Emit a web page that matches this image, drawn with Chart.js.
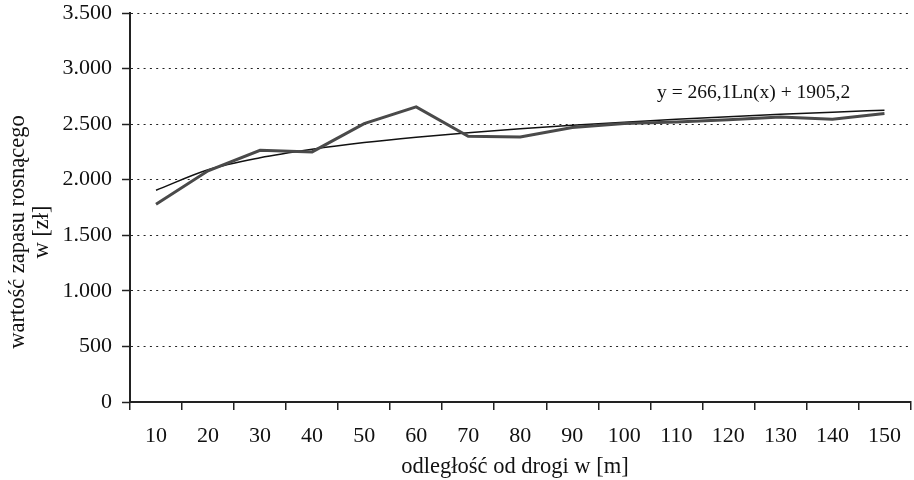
<!DOCTYPE html>
<html lang="pl">
<head>
  <meta charset="UTF-8" />
  <title>Wartość zapasu rosnącego</title>
  <script src="https://cdn.jsdelivr.net/npm/chart.js"></script>
  <style>
    html, body { margin: 0; padding: 0; background: #fff; }
    #wrap { width: 914px; height: 480px; position: relative; }
  </style>
</head>
<body>
  <div id="wrap"><canvas id="chart"></canvas></div>

  <script>
    // odległość od drogi [m]
    const distances = ['10', '20', '30', '40', '50', '60', '70', '80', '90', '100', '110', '120', '130', '140', '150'];
    // wartość zapasu [zł]
    const stockValue = [1780, 2080, 2265, 2250, 2505, 2655, 2390, 2385, 2470, 2505, 2520, 2540, 2565, 2545, 2595];
    // linia trendu (logarytmiczna)
    const trendValue = [1905, 2090, 2198, 2274, 2334, 2382, 2423, 2459, 2490, 2518, 2543, 2566, 2588, 2608, 2626];
    const trendLabel = 'y = 266,1Ln(x) + 1905,2';
    const xTitle = 'odległość od drogi w [m]';
    const yTitle = ['wartość zapasu rosnącego', 'w [zł]'];

    const serif = '"Liberation Serif", "DejaVu Serif", serif';

    function fmt(v) {
      return String(v).replace(/\B(?=(\d{3})+(?!\d))/g, '.');
    }

    const textPlugin = {
      id: 'texts',
      afterDraw(chart) {
        const ctx = chart.ctx;
        const area = chart.chartArea;
        ctx.save();
        ctx.fillStyle = '#111';
        ctx.font = '22.5px ' + serif;
        ctx.textAlign = 'center';
        ctx.textBaseline = 'middle';
        ctx.fillText(xTitle, 515, 467);

        ctx.translate(18, 232);
        ctx.rotate(-Math.PI / 2);
        ctx.fillText(yTitle[0], 0, 0);
        ctx.fillText(yTitle[1], 0, 24);
        ctx.restore();

        ctx.save();
        ctx.fillStyle = '#111';
        ctx.font = '19.5px ' + serif;
        ctx.textAlign = 'left';
        ctx.textBaseline = 'middle';
        ctx.fillText(trendLabel, area.left + 527, 93);
        ctx.restore();
      }
    };

    new Chart(document.getElementById('chart'), {
      type: 'line',
      data: {
        labels: distances,
        datasets: [
          {
            label: 'wartość',
            data: stockValue,
            borderColor: '#4a4a4a',
            borderWidth: 3,
            pointRadius: 0,
            tension: 0
          },
          {
            label: 'trend',
            data: trendValue,
            borderColor: '#111',
            borderWidth: 1.5,
            pointRadius: 0,
            cubicInterpolationMode: 'monotone'
          }
        ]
      },
      options: {
        responsive: true,
        maintainAspectRatio: false,
        animation: false,
        layout: { padding: { top: 0, right: 1, left: 0, bottom: 0 } },
        plugins: {
          legend: { display: false },
          tooltip: { enabled: false }
        },
        scales: {
          x: {
            offset: true,
            grid: {
              offset: true,
              drawOnChartArea: false,
              drawTicks: true,
              tickLength: 8,
              color: '#222',
              lineWidth: 1.5
            },
            border: { color: '#222', width: 2 },
            ticks: {
              color: '#111',
              padding: 13,
              maxRotation: 0,
              font: { family: serif, size: 22 }
            },
            afterFit(scale) { scale.height = 78; }
          },
          y: {
            min: 0,
            max: 3500,
            grid: {
              color: '#222',
              lineWidth: 1,
              tickLength: 8,
              tickBorderDash: [],
              tickBorderDashOffset: 0,
              tickColor: '#222',
              tickWidth: 1.5
            },
            border: { color: '#222', width: 2, dash: [2, 4.3] },
            ticks: {
              stepSize: 500,
              color: '#111',
              padding: 10,
              font: { family: serif, size: 22 },
              callback: v => fmt(v)
            },
            afterFit(scale) {
              scale.width = 130;
              scale.paddingTop = 13;
              scale.paddingBottom = 0;
            }
          }
        }
      },
      plugins: [textPlugin]
    });
  </script>
</body>
</html>
